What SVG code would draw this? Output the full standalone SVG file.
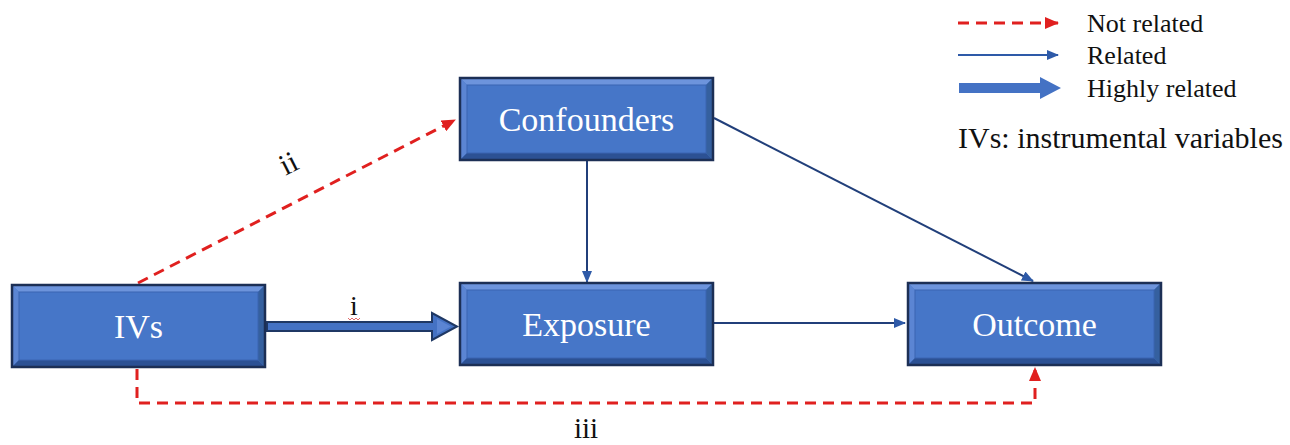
<svg xmlns="http://www.w3.org/2000/svg" xmlns:xlink="http://www.w3.org/1999/xlink" width="1290" height="445" viewBox="0 0 1290 445">
<style>
.nodetxt{font-family:"Liberation Serif","Times New Roman",serif;font-size:34px;fill:#ffffff;text-anchor:middle}
.lbl{font-family:"Liberation Serif","Times New Roman",serif;fill:#111111}
.thin{fill:none;stroke:#213f7a;stroke-width:2}
.red{fill:none;stroke:#e0201f;stroke-width:3;stroke-dasharray:11 7}
.thick{fill:#4472c4;stroke:#1f3864;stroke-width:2;stroke-linejoin:miter}
</style>
<defs>
<marker id="blueHead" markerUnits="userSpaceOnUse" markerWidth="12" markerHeight="10" refX="11" refY="5" orient="auto">
<path d="M0,0 L12,5 L0,10 Z" fill="#2e5aa8"/>
</marker>
<marker id="redHead" markerUnits="userSpaceOnUse" markerWidth="14" markerHeight="12" refX="13" refY="6" orient="auto">
<path d="M0,0 L14,6 L0,12 Z" fill="#e0201f"/>
</marker>
<g id="boxShape">
<rect x="0" y="0" width="253" height="82" fill="#4472c4"/>
<polygon points="0,0 253,0 246,7 7,7" fill="#6d94dc"/>
<polygon points="0,0 7,7 7,75 0,82" fill="#5b85d3"/>
<polygon points="0,82 7,75 246,75 253,82" fill="#2c5194"/>
<polygon points="253,0 253,82 246,75 246,7" fill="#35609f"/>
<rect x="7" y="7" width="239" height="68" fill="#4676c8" stroke="#3a65b2" stroke-width="1"/>
<rect x="0" y="0" width="253" height="82" fill="none" stroke="#1c2f55" stroke-width="2.5"/>
</g>
</defs>
<rect width="1290" height="445" fill="#ffffff"/>

<g id="connectors">
<path class="red" d="M138,283 L455,120" marker-end="url(#redHead)"/>
<path class="red" d="M137,369 V403 H1035 V368" marker-end="url(#redHead)"/>
<path class="thin" d="M587,161 V282" marker-end="url(#blueHead)"/>
<path class="thin" d="M714,118 L1033,281" marker-end="url(#blueHead)"/>
<path class="thin" d="M714,323 H905" marker-end="url(#blueHead)"/>
<polygon class="thick" points="267,322 432,322 432,313 457,326.5 432,340 432,331 267,331"/>
<polygon points="437,319 451,326.5 437,334" fill="#5b85d3"/>
<text class="lbl" x="354" y="315" font-size="28" text-anchor="middle">i</text>
<path d="M348,318 l2,2 l2,-2 l2,2 l2,-2 l2,2 l2,-2" fill="none" stroke="#e06a6a" stroke-width="1"/>
<text class="lbl" x="293" y="172" font-size="30" text-anchor="middle" transform="rotate(-27 293 172)">ii</text>
<text class="lbl" x="586" y="438" font-size="29" text-anchor="middle">iii</text>
</g>

<g id="node-confounders">
<use xlink:href="#boxShape" href="#boxShape" x="460" y="78"/>
<text class="nodetxt" x="586.5" y="131">Confounders</text>
</g>
<g id="node-ivs">
<use xlink:href="#boxShape" href="#boxShape" x="12" y="285"/>
<text class="nodetxt" x="138.5" y="338">IVs</text>
</g>
<g id="node-exposure">
<use xlink:href="#boxShape" href="#boxShape" x="460" y="283"/>
<text class="nodetxt" x="586.5" y="336">Exposure</text>
</g>
<g id="node-outcome">
<use xlink:href="#boxShape" href="#boxShape" x="908" y="283"/>
<text class="nodetxt" x="1034.5" y="336">Outcome</text>
</g>

<g id="legend">
<path class="red" d="M958,23 H1058" marker-end="url(#redHead)"/>
<text class="lbl" x="1087" y="32" font-size="26">Not related</text>
<path d="M958,55 H1058" fill="none" stroke="#2e5aa8" stroke-width="2" marker-end="url(#blueHead)"/>
<text class="lbl" x="1087" y="64" font-size="26">Related</text>
<polygon points="959,83 1040,83 1040,77 1061,88 1040,99 1040,93 959,93" fill="#4472c4"/>
<text class="lbl" x="1087" y="97" font-size="26">Highly related</text>
<text class="lbl" x="958" y="148" font-size="30">IVs: instrumental variables</text>
</g>
</svg>
